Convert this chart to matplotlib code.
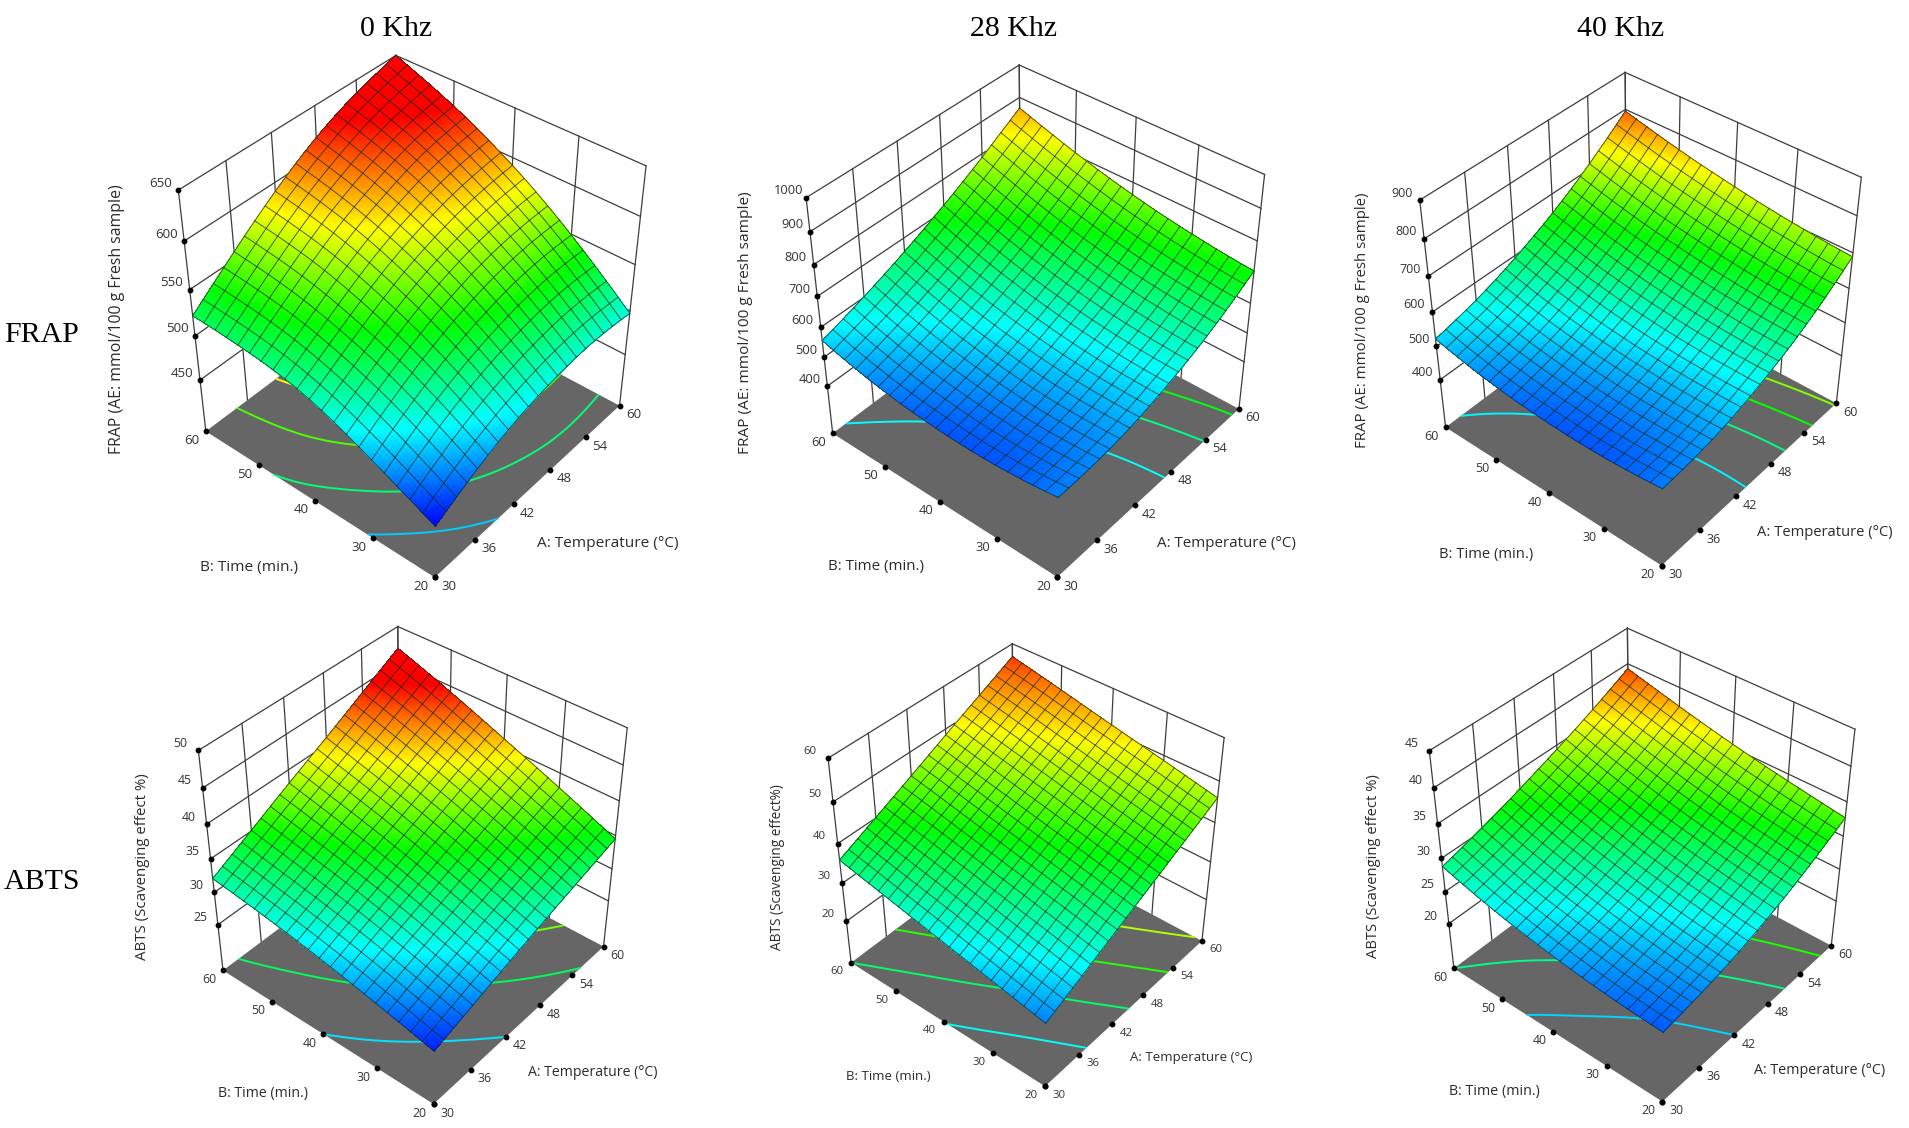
import numpy as np
import matplotlib
matplotlib.use("Agg")
import matplotlib.pyplot as plt
import matplotlib.tri as mtri
from matplotlib.colors import LinearSegmentedColormap, Normalize
from mpl_toolkits.mplot3d import proj3d

A_TICKS = [30, 36, 42, 48, 54, 60]
B_TICKS = [20, 30, 40, 50, 60]

FRAP_0 = [[449,472,489,498,501,497],[480,507,528,542,549,549],[506,533,558,576,587,592],[518,550,579,601,617,625],[522,558,591,618,637,650]]
FRAP_28 = [[508,515,538,578,633,705],[488,507,541,589,651,727],[490,520,562,616,682,761],[512,551,600,659,729,808],[556,602,656,718,789,867]]
FRAP_40 = [[485,496,522,563,618,689],[472,490,522,568,629,704],[474,497,533,584,649,727],[490,517,557,610,677,757],[522,551,593,647,715,795]]
ABTS_0 = [[26.0,27.8,29.6,31.3,32.9,34.5],[27.9,30.0,32.0,34.0,36.0,37.9],[29.6,32.0,34.3,36.6,38.9,41.1],[31.0,33.6,36.3,38.9,41.6,44.2],[32.1,35.1,38.1,41.0,44.0,47.0]]
ABTS_28 = [[25.5,29.6,33.7,37.8,41.9,46.0],[28.1,32.2,36.4,40.5,44.6,48.8],[30.7,34.9,39.0,43.2,47.3,51.5],[33.3,37.5,41.7,45.9,50.1,54.3],[35.9,40.1,44.3,48.6,52.8,57.0]]
ABTS_40 = [[23.7,24.6,25.9,27.7,30.0,32.7],[24.2,25.3,26.9,28.9,31.2,34.0],[25.2,26.6,28.3,30.3,32.7,35.5],[26.7,28.2,30.1,32.2,34.6,37.3],[28.8,30.4,32.3,34.4,36.7,39.3]]

TITLES = ["0 Khz", "28 Khz", "40 Khz"]
ROWS = ["FRAP", "ABTS"]
FRAP_LABEL = "FRAP (AE: mmol/100 g Fresh sample)"
Z_LABELS = [FRAP_LABEL, FRAP_LABEL, FRAP_LABEL, "ABTS (Scavenging effect %)", "ABTS (Scavenging effect%)", "ABTS (Scavenging effect %)"]
Z_TICKS = [[450,500,550,600,650],[400,500,600,700,800,900,1000],[400,500,600,700,800,900],[25,30,35,40,45,50],[20,30,40,50,60],[20,25,30,35,40,45]]
Z_FLOOR = [389, 230, 250, 17.6, 8.5, 12.7]
COLOR_MIN = [447, 445, 438, 25.3, 20.5, 22.0]
COLOR_MAX = [625, 945, 830, 44.5, 59, 40.5]
LEVELS = [[483,516,549,582],[570,630,690],[532,584,634,684],[29.6,33.3,37.0],[30.5,35.9,41.2,46.4],[25.9,28.8,31.7,34.6]]
SURFACES = [FRAP_0, FRAP_28, FRAP_40, ABTS_0, ABTS_28, ABTS_40]

# pixel anchors of the box: front, left, right, top-left, top-right, back-top
ANCHORS = [
 [(434.9,578),(205.6,431.2),(619.7,405.2),(178.6,189.7),(645.6,165.9),(396,55.6)],
 [(1057.3,577.5),(832.7,433),(1239.2,408.9),(806.2,197.8),(1264.2,174.2),(1019.2,65.2)],
 [(1661.7,565.8),(1445.8,427.3),(1836.7,403),(1419.5,199.9),(1860.8,177.4),(1625.2,72.5)],
 [(433.3,1104.3),(223.3,970),(604,946.7),(198.4,750.7),(627,727.3),(397.5,626.7)],
 [(1045,1086.7),(851,962.3),(1202,941),(828.3,758.3),(1224,737.3),(1012.3,644)],
 [(1662,1101.7),(1454.2,968.3),(1831.6,945.7),(1429.4,750.7),(1855,729),(1627,628.3)],
]
Z_TITLE_POS = [(117.5,318.7),(745.8,323),(1362.6,320),(142,866.7),(777.3,867.3),(1373.6,865.8)]
B_TITLE_POS = [(249,567),(875.8,566.4),(1486.6,554.7),(263.5,1094),(888.3,1076.7),(1493.9,1091)]
A_TITLE_POS = [(607.4,543.3),(1226.9,543.2),(1825,532.2),(592.3,1072.7),(1191,1057.3),(1819.6,1070)]
TITLE_SIZE = [11.1, 10.9, 10.6, 10.2, 9.5, 10.3]
Z_TITLE_SIZE = [11.4, 11.1, 10.8, 10.8, 9.85, 10.6]
TICK_SIZE = [9.5, 9.3, 9.0, 8.8, 8.2, 8.8]

W, H = 1909, 1128
plt.rcParams['font.family'] = ['Open Sans', 'DejaVu Sans']
fig = plt.figure(figsize=(W/100, H/100), dpi=100, facecolor='white')
cmap = LinearSegmentedColormap.from_list('de', ['#0000ff','#00ffff','#00ff00','#ffff00','#ff0000'])

def nelder_mead(f, x0, step, iters=500):
    n = len(x0)
    S = [np.array(x0, float)]
    for i in range(n):
        p = np.array(x0, float); p[i] += step[i]; S.append(p)
    F = [f(p) for p in S]
    for _ in range(iters):
        o = np.argsort(F); S = [S[i] for i in o]; F = [F[i] for i in o]
        c = np.mean(S[:-1], axis=0)
        r = c + (c - S[-1]); fr = f(r)
        if fr < F[0]:
            e = c + 2*(c - S[-1]); fe = f(e)
            if fe < fr: S[-1], F[-1] = e, fe
            else: S[-1], F[-1] = r, fr
        elif fr < F[-2]:
            S[-1], F[-1] = r, fr
        else:
            k = c + .5*(S[-1] - c); fk = f(k)
            if fk < F[-1]: S[-1], F[-1] = k, fk
            else:
                S = [S[0]] + [S[0] + .5*(p - S[0]) for p in S[1:]]
                F = [F[0]] + [f(p) for p in S[1:]]
    i = int(np.argmin(F))
    return S[i], F[i]

tmp = fig.add_axes([0, 0, 1, 1], projection='3d')
def fit(i):
    zf, zt = Z_FLOOR[i], Z_TICKS[i][-1]
    pts = np.array([(30,20,zf),(30,60,zf),(60,20,zf),(30,60,zt),(60,20,zt),(60,60,zt)], float)
    tg = np.array(ANCHORS[i], float); tg[:,1] = H - tg[:,1]
    tmp.set_xlim(30,60); tmp.set_ylim(20,60); tmp.set_zlim(zf,zt)
    def run(p):
        el, az, fl, yr, zr = p
        fl = abs(fl) + 1e-3
        tmp.view_init(el, az)
        tmp.set_proj_type('persp', focal_length=fl)
        tmp.set_box_aspect((1, abs(yr), abs(zr)))
        xp, yp, _ = proj3d.proj_transform(pts[:,0], pts[:,1], pts[:,2], tmp.get_proj())
        xc, yc = xp-xp.mean(), yp-yp.mean()
        uc, vc = tg[:,0]-tg[:,0].mean(), tg[:,1]-tg[:,1].mean()
        s = ((xc*uc).sum()+(yc*vc).sum())/((xc*xc).sum()+(yc*yc).sum())
        tx, ty = tg[:,0].mean()-s*xp.mean(), tg[:,1].mean()-s*yp.mean()
        err = ((s*xp+tx-tg[:,0])**2+(s*yp+ty-tg[:,1])**2).sum()
        return err, s, tx, ty
    best, ferr = nelder_mead(lambda p: run(p)[0], [40,-140,.58,1,1], [3,3,.1,.05,.05], 400)
    _, s, tx, ty = run(best)
    xl, xr = tmp.viewLim.intervalx; yl, _yr = tmp.viewLim.intervaly
    S = s*(xr-xl)
    x0, y0 = tx+s*xl, ty+s*yl
    return [float(v) for v in best]+[float(x0), float(y0), float(S)]
VIEWS = [fit(i) for i in range(6)]
tmp.remove()

LINE = '#3d3d3d'
def draw_panel(i):
    el, az, fl, yr, zr, x0, y0, S = VIEWS[i]
    ax = fig.add_axes([x0/W, y0/H, S/W, S/H], projection='3d', computed_zorder=False)
    zf = Z_FLOOR[i]; zticks = Z_TICKS[i]; zt = zticks[-1]
    ax.set_xlim(30,60); ax.set_ylim(20,60); ax.set_zlim(zf,zt)
    ax.set_autoscale_on(False)
    ax.view_init(el, az)
    ax.set_proj_type('persp', focal_length=abs(fl)+1e-3)
    ax.set_box_aspect((1, abs(yr), abs(zr)))
    ax.set_axis_off(); ax.patch.set_alpha(0)
    lk = dict(color=LINE, lw=0.9, clip_on=False)
    for z in zticks:
        ax.plot([30,60],[60,60],[z,z],zorder=1,**lk)
        ax.plot([60,60],[20,60],[z,z],zorder=1,**lk)
    for a in A_TICKS:
        ax.plot([a,a],[60,60],[zf,zt],zorder=1,**lk)
    for b in B_TICKS:
        ax.plot([60,60],[b,b],[zf,zt],zorder=1,**lk)
    fx, fy = np.meshgrid([30,60],[20,60])
    fl_s = ax.plot_surface(fx, fy, np.full(fx.shape, float(zf)), color='#666666', shade=False, linewidth=0, zorder=2)
    fl_s.set_clip_on(False)
    AA, BB = np.meshgrid(A_TICKS, B_TICKS)
    vals = np.array(SURFACES[i], float)
    tri = mtri.Triangulation(AA.ravel(), BB.ravel())
    interp = mtri.CubicTriInterpolator(tri, vals.ravel(), kind='min_E')
    n = 81
    XX, YY = np.meshgrid(np.linspace(30,60,n), np.linspace(20,60,n))
    ZZ = np.ma.filled(interp(XX, YY), np.nan)
    ZZ = np.where(np.isnan(ZZ), np.nanmean(ZZ), ZZ)
    norm = Normalize(COLOR_MIN[i], COLOR_MAX[i], clip=True)
    cs = ax.contour(XX, YY, ZZ, levels=LEVELS[i], zdir='z', offset=zf, cmap=cmap, norm=norm, linewidths=1.4, zorder=3)
    cs.set_clip_on(False)
    surf = ax.plot_surface(XX, YY, ZZ, facecolors=cmap(norm(ZZ)), rstride=1, cstride=1, shade=False, linewidth=0, antialiased=False, zorder=4)
    surf.set_clip_on(False)
    gk = dict(color='#1c2a1c', lw=0.7, alpha=0.75, clip_on=False, zorder=5)
    for k in range(0, n, 4):
        ax.plot(XX[k,:], YY[k,:], ZZ[k,:], **gk)
        ax.plot(XX[:,k], YY[:,k], ZZ[:,k], **gk)
    M = ax.get_proj()
    mk = dict(color='black', marker='o', ms=3.2, ls='none', clip_on=False, zorder=6)
    tk = dict(textcoords='offset pixels', fontsize=TICK_SIZE[i], color='#333333', ha='center', va='center', annotation_clip=False, zorder=7)
    def lab(x, y, z, txt, dx, dy):
        ax.plot([x],[y],[z],**mk)
        px, py, _ = proj3d.proj_transform(x, y, z, M)
        ax.annotate(txt, (px, py), xytext=(dx, dy), **tk)
    for z in zticks:
        lab(30, 60, z, str(z), -18, 7)
    for b in B_TICKS:
        lab(30, b, zf, str(b), -14, -9)
    for a in A_TICKS:
        lab(a, 20, zf, str(a), 14, -9)

for i in range(6):
    draw_panel(i)

def ptext(px, py, s, **kw):
    fig.text(px/W, 1-py/H, s, ha='center', va='center', **kw)
for i in range(6):
    c = '#2b2b2b'
    ptext(*Z_TITLE_POS[i], Z_LABELS[i], rotation=90, fontsize=Z_TITLE_SIZE[i], color=c)
    ptext(*B_TITLE_POS[i], "B: Time (min.)", fontsize=TITLE_SIZE[i], color=c)
    ptext(*A_TITLE_POS[i], "A: Temperature (°C)", fontsize=TITLE_SIZE[i], color=c)
serif = ['Liberation Serif', 'DejaVu Serif']
for t, px in zip(TITLES, (396, 1013, 1620.5)):
    ptext(px, 29, t, fontsize=21.5, family=serif, color='black')
for t, py in zip(ROWS, (335, 882)):
    ptext(42, py, t, fontsize=21.5, family=serif, color='black')

fig.savefig('out.png', dpi=100)
